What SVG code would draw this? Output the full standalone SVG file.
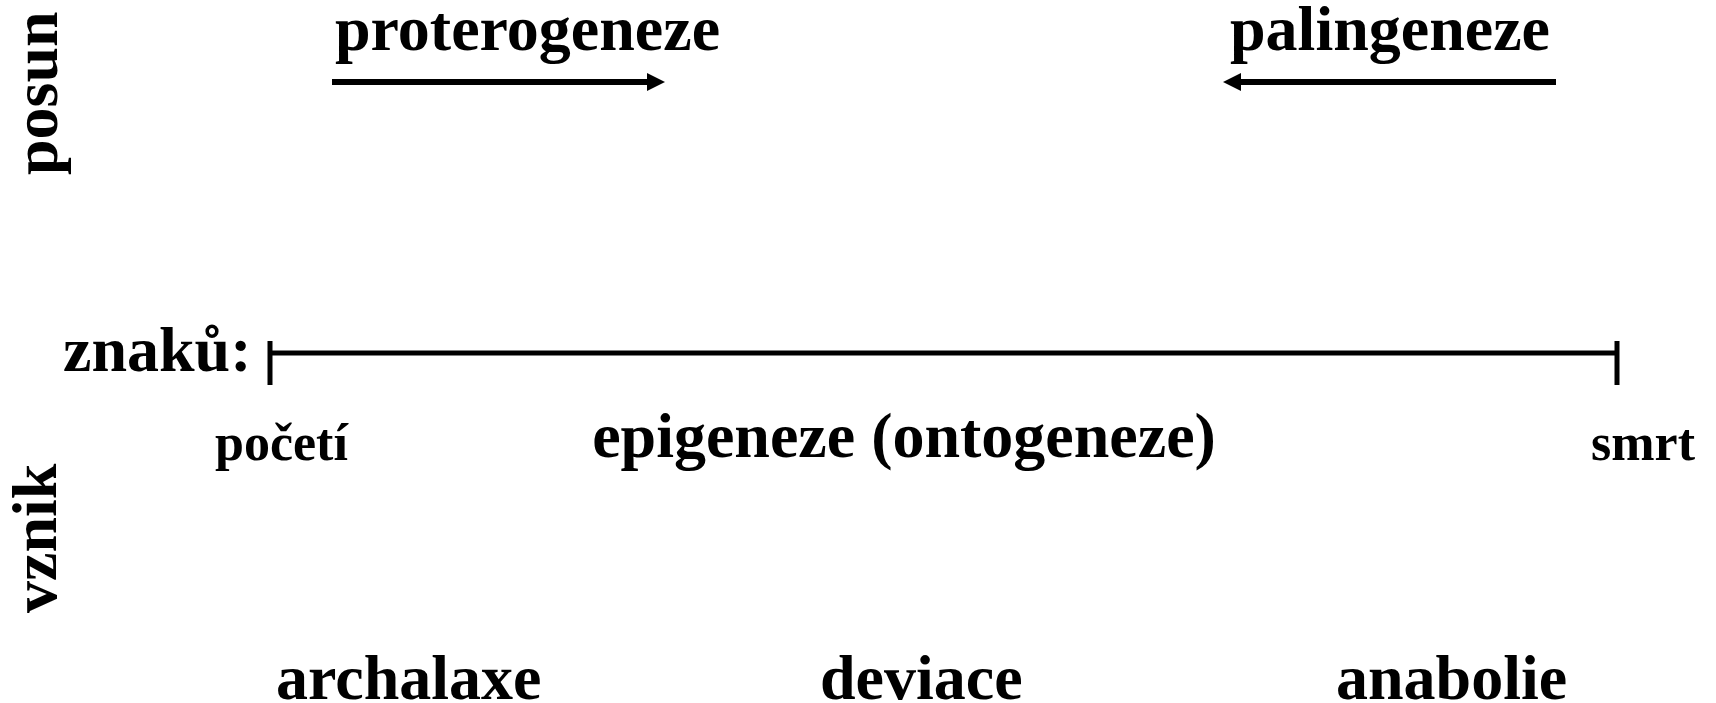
<svg xmlns="http://www.w3.org/2000/svg" width="1716" height="703" viewBox="0 0 1716 703">
  <style>
    .t { font-family: "Liberation Serif", "Times New Roman", serif; font-weight: bold; fill: #000; }
    .big { font-size: 64px; }
    .small { font-size: 52px; }
    .ln { stroke: #000; fill: none; }
  </style>
  <defs>
    <marker id="ah" viewBox="0 0 18 18" refX="0" refY="9" markerWidth="18" markerHeight="18" markerUnits="userSpaceOnUse" orient="auto">
      <path d="M0,0 L18,9 L0,18 Z" fill="#000"/>
    </marker>
  </defs>
  <rect width="1716" height="703" fill="#fff"/>

  <g id="connectors">
    <line class="ln" x1="332" y1="82" x2="647" y2="82" stroke-width="6" marker-end="url(#ah)"/>
    <line class="ln" x1="1556" y1="82" x2="1241" y2="82" stroke-width="6" marker-end="url(#ah)"/>
    <line class="ln" x1="270" y1="353" x2="1617" y2="353" stroke-width="5"/>
    <line class="ln" x1="270" y1="341" x2="270" y2="385" stroke-width="5"/>
    <line class="ln" x1="1617" y1="341" x2="1617" y2="385" stroke-width="5"/>
  </g>

  <g id="posun"><text class="t big" transform="translate(57,175) rotate(-90)">posun</text></g>
  <g id="vznik"><text class="t big" transform="translate(56,613) rotate(-90)">vznik</text></g>
  <g id="proterogeneze"><text class="t big" x="335" y="50">proterogeneze</text></g>
  <g id="palingeneze"><text class="t big" x="1230" y="50">palingeneze</text></g>
  <g id="znaku"><text class="t big" x="63" y="371">znaků:</text></g>
  <g id="poceti"><text class="t small" x="215" y="460">početí</text></g>
  <g id="epigeneze"><text class="t big" x="904" y="457" text-anchor="middle">epigeneze (ontogeneze)</text></g>
  <g id="smrt"><text class="t small" x="1591" y="460">smrt</text></g>
  <g id="archalaxe"><text class="t big" x="276" y="699">archalaxe</text></g>
  <g id="deviace"><text class="t big" x="820" y="699">deviace</text></g>
  <g id="anabolie"><text class="t big" x="1336" y="699">anabolie</text></g>
</svg>
